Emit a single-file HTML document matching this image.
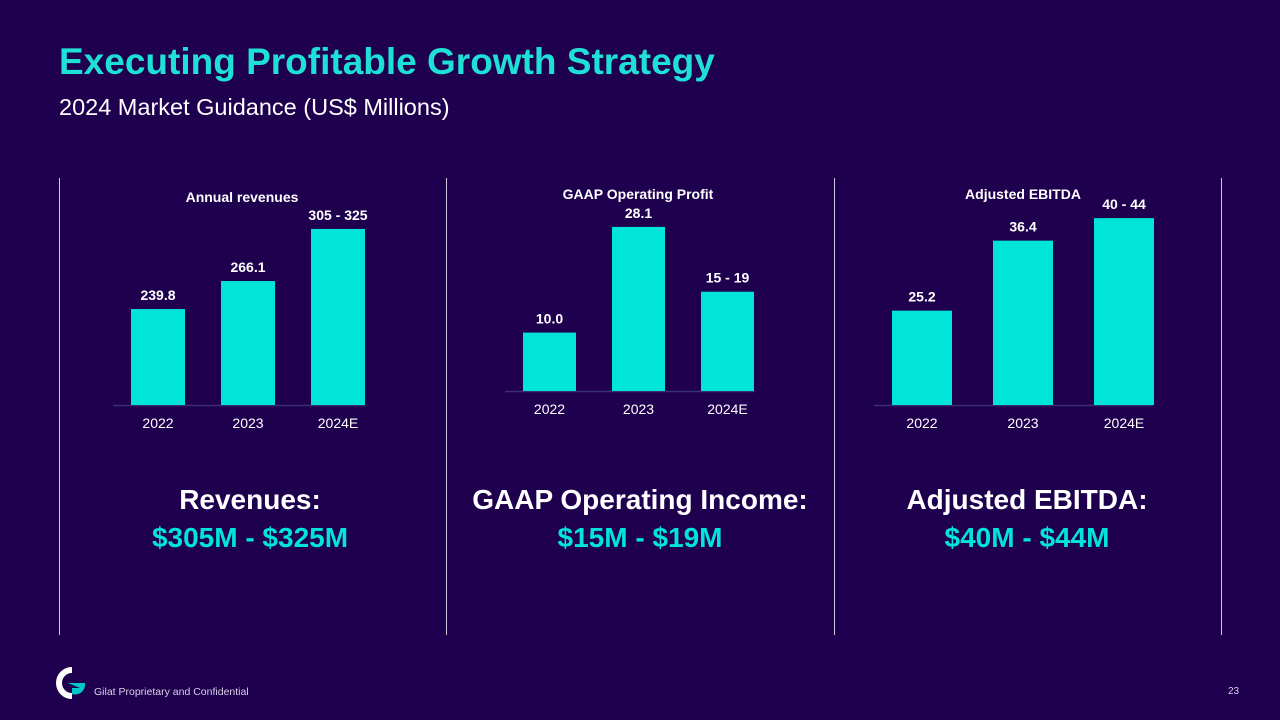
<!DOCTYPE html>
<html><head><meta charset="utf-8">
<style>
body{margin:0;width:1280px;height:720px;background:#1f004e;overflow:hidden;font-family:"Liberation Sans",Arial,sans-serif;position:relative;color:#fff}
.t{position:absolute;white-space:nowrap}
.div{position:absolute;top:178px;width:1px;height:457px;background:#cfc8e0}
.big{position:absolute;width:380px;text-align:center;font-weight:bold;font-size:28px;line-height:38px}
.big .c{color:#00e5d8}
svg{position:absolute;left:0;top:0}
</style></head><body>
<div class="t" style="left:59px;top:41px;font-size:37px;font-weight:bold;color:#1ee0d6">Executing Profitable Growth Strategy</div>
<div class="t" style="left:59px;top:94px;font-size:23.5px">2024 Market Guidance (US$ Millions)</div>
<div class="div" style="left:59px"></div>
<div class="div" style="left:446px"></div>
<div class="div" style="left:834px"></div>
<div class="div" style="left:1221px"></div>
<svg id="chart" width="1280" height="720"></svg>
<div class="big" style="left:60px;top:481px">Revenues:<br><span class="c">$305M - $325M</span></div>
<div class="big" style="left:450px;top:481px;width:380px">GAAP Operating Income:<br><span class="c">$15M - $19M</span></div>
<div class="big" style="left:837px;top:481px">Adjusted EBITDA:<br><span class="c">$40M - $44M</span></div>
<svg width="40" height="40" style="left:56px;top:666px">
<path d="M16 4 A13 13 0 1 0 16 30" stroke="#fff" stroke-width="6" fill="none"/>
<path d="M12 17 L29 17 A10 10 0 0 1 16 28 L16 22 L24 22" fill="#00c8c8"/>
</svg>
<div class="t" style="left:94px;top:686px;font-size:10.5px;color:#d8d0e8">Gilat Proprietary and Confidential</div>
<div class="t" style="left:1228px;top:686px;font-size:10px;color:#d8d0e8">23</div>
<script>
const categories=["2022","2023","2024E"];
const revValues=[239.8,266.1,315];
const revLabels=["239.8","266.1","305 - 325"];
const opValues=[10.0,28.1,17];
const opLabels=["10.0","28.1","15 - 19"];
const ebitdaValues=[25.2,36.4,40];
const ebitdaLabels=["25.2","36.4","40 - 44"];
const NS="http://www.w3.org/2000/svg";
const svg=document.getElementById('chart');
function mk(tag,attrs){const e=document.createElementNS(NS,tag);for(const k in attrs)e.setAttribute(k,attrs[k]);svg.appendChild(e);return e;}
function chart(cfg,vals,labels,key){
  const y=v=>cfg.base-(v-cfg.min)*cfg.scale;
  const tt=mk('text',{x:cfg.titleX,y:cfg.titleY,'text-anchor':'middle','font-size':14,'font-weight':'bold',fill:'#fff'});
  tt.textContent=cfg.title;
  
  
  const ax=mk('line',{x1:cfg.x0-18,x2:cfg.x0+cfg.step*3-cfg.w+18,y1:cfg.base+0.5,y2:cfg.base+0.5,stroke:'#3a3070','stroke-width':1.5});
  
  
  vals.forEach((v,i)=>{
    const x=cfg.x0+i*cfg.step, top=y(v);
    const r=mk('rect',{x:x,y:top,width:cfg.w,height:cfg.base-top,fill:'#00e5d8'});
    
    
    const l=mk('text',{x:x+cfg.w/2,y:top-9,'text-anchor':'middle','font-size':14,'font-weight':'bold',fill:'#fff'});
    l.textContent=labels[i];
    
    
    const c=mk('text',{x:x+cfg.w/2,y:cfg.base+23,'text-anchor':'middle','font-size':14,fill:'#fff'});
    c.textContent=categories[i];
    
    
  });
}
chart({x0:131,step:90,w:54,base:405,min:149.7,scale:1.065,title:"Annual revenues",titleX:242,titleY:202},revValues,revLabels,'revenue');
chart({x0:523,step:89,w:53,base:391,min:0,scale:5.84,title:"GAAP Operating Profit",titleX:638,titleY:199},opValues,opLabels,'operating');
chart({x0:892,step:101,w:60,base:405,min:10.1,scale:6.25,title:"Adjusted EBITDA",titleX:1023,titleY:199},ebitdaValues,ebitdaLabels,'ebitda');
</script>
</body></html>
